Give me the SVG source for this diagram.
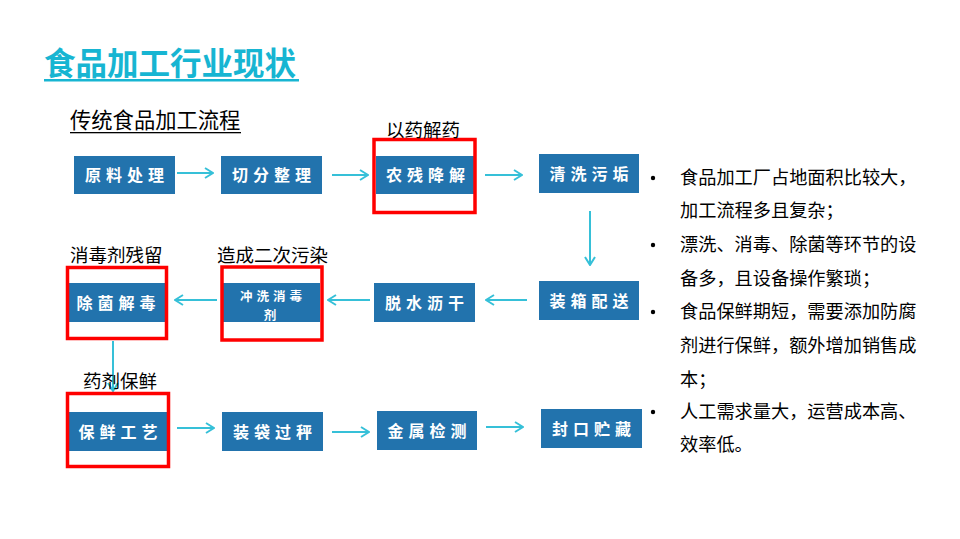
<svg xmlns="http://www.w3.org/2000/svg" width="960" height="539" viewBox="0 0 960 539">
<style>
.title{font-family:"Noto Sans CJK SC","Liberation Sans",sans-serif;font-size:31.5px;font-weight:700;fill:#17b5d2}
.sub{font-family:"Noto Sans CJK SC","Liberation Sans",sans-serif;font-size:21.3px;fill:#000}
.lbl{font-family:"Noto Sans CJK SC","Liberation Sans",sans-serif;font-size:18.5px;fill:#000}
.box{fill:#2273ad}
.bt{font-family:"Noto Sans CJK SC","Liberation Sans",sans-serif;font-size:16px;font-weight:700;fill:#fff;letter-spacing:5px;text-anchor:middle}
.bts{font-family:"Noto Sans CJK SC","Liberation Sans",sans-serif;font-size:12.5px;font-weight:700;fill:#fff;letter-spacing:4px;text-anchor:middle}
.red{fill:none;stroke:#ff0000;stroke-width:3.5}
.con{stroke:#36c0d8;stroke-width:2;fill:none}
.txt{font-family:"Noto Sans CJK SC","Liberation Sans",sans-serif;font-size:18.2px;fill:#000}
</style>
<defs>
<marker id="arr" viewBox="0 0 10 12" refX="9" refY="6" markerWidth="10" markerHeight="12" markerUnits="userSpaceOnUse" orient="auto">
<path d="M1,1 L9,6 L1,11" fill="none" stroke="#36c0d8" stroke-width="2"/>
</marker>
</defs>
<rect width="960" height="539" fill="#fff"/>
<g id="title">
<text class="title" x="44" y="75">食品加工行业现状</text>
<rect x="44" y="79" width="255" height="2.5" fill="#17b5d2"/>
</g>
<g id="subtitle">
<text class="sub" x="70" y="128">传统食品加工流程</text>
<rect x="70" y="132" width="171" height="1.3" fill="#000"/>
</g>
<g id="connectors">
<line class="con" x1="177" y1="173" x2="213" y2="173" marker-end="url(#arr)"/>
<line class="con" x1="332" y1="175" x2="368" y2="175" marker-end="url(#arr)"/>
<line class="con" x1="485" y1="175" x2="522" y2="175" marker-end="url(#arr)"/>
<line class="con" x1="590" y1="211" x2="590" y2="265" marker-end="url(#arr)"/>
<line class="con" x1="527" y1="300" x2="486" y2="300" marker-end="url(#arr)"/>
<line class="con" x1="370" y1="300" x2="328" y2="300" marker-end="url(#arr)"/>
<line class="con" x1="217" y1="300" x2="175" y2="300" marker-end="url(#arr)"/>
<line class="con" x1="113" y1="341" x2="113" y2="391" marker-end="url(#arr)"/>
<line class="con" x1="177" y1="428" x2="214" y2="428" marker-end="url(#arr)"/>
<line class="con" x1="332" y1="432" x2="369" y2="432" marker-end="url(#arr)"/>
<line class="con" x1="486" y1="427" x2="523" y2="427" marker-end="url(#arr)"/>
</g>
<g id="n1"><rect class="box" x="74" y="156" width="101" height="38"/><text class="bt" x="127" y="181">原料处理</text></g>
<g id="n2"><rect class="box" x="221" y="156" width="101" height="38"/><text class="bt" x="274" y="181">切分整理</text></g>
<g id="n3"><rect class="box" x="376" y="156" width="99" height="38"/><text class="bt" x="428" y="181">农残降解</text>
<rect class="red" x="374" y="139.5" width="101" height="73"/>
<text class="lbl" x="386" y="137">以药解药</text></g>
<g id="n4"><rect class="box" x="539" y="154" width="100" height="39"/><text class="bt" x="591.5" y="179.5">清洗污垢</text></g>
<g id="n5"><rect class="box" x="539" y="281" width="100" height="39"/><text class="bt" x="591.5" y="306.5">装箱配送</text></g>
<g id="n6"><rect class="box" x="374" y="283" width="101" height="39"/><text class="bt" x="427" y="308.5">脱水沥干</text></g>
<g id="n7"><rect class="box" x="223" y="283" width="97" height="39"/><text class="bts" x="273" y="301">冲洗消毒</text><text class="bts" x="272" y="319.5">剂</text>
<rect class="red" x="222" y="267" width="100" height="73"/>
<text class="lbl" x="217" y="262">造成二次污染</text></g>
<g id="n8"><rect class="box" x="67" y="283" width="98" height="39"/><text class="bt" x="118.5" y="308.5">除菌解毒</text>
<rect class="red" x="67.5" y="267.5" width="99" height="71"/>
<text class="lbl" x="70" y="262">消毒剂残留</text></g>
<g id="n9"><rect class="box" x="69" y="412" width="98" height="39"/><text class="bt" x="120.5" y="437.5">保鲜工艺</text>
<rect class="red" x="67.5" y="393.5" width="101" height="73"/>
<text class="lbl" x="83" y="388">药剂保鲜</text></g>
<g id="n10"><rect class="box" x="222" y="412" width="101" height="39"/><text class="bt" x="275" y="437.5">装袋过秤</text></g>
<g id="n11"><rect class="box" x="377" y="411" width="100" height="39"/><text class="bt" x="429.5" y="436.5">金属检测</text></g>
<g id="n12"><rect class="box" x="541" y="409" width="101" height="39"/><text class="bt" x="594" y="434.5">封口贮藏</text></g>
<g id="notes">
<circle cx="653" cy="178" r="2.2"/>
<circle cx="653" cy="245" r="2.2"/>
<circle cx="653" cy="312" r="2.2"/>
<circle cx="653" cy="412" r="2.2"/>
<text class="txt" x="680" y="184">食品加工厂占地面积比较大，</text>
<text class="txt" x="680" y="217">加工流程多且复杂；</text>
<text class="txt" x="680" y="251">漂洗、消毒、除菌等环节的设</text>
<text class="txt" x="680" y="285">备多，且设备操作繁琐；</text>
<text class="txt" x="680" y="318">食品保鲜期短，需要添加防腐</text>
<text class="txt" x="680" y="352">剂进行保鲜，额外增加销售成</text>
<text class="txt" x="680" y="386">本；</text>
<text class="txt" x="680" y="418">人工需求量大，运营成本高、</text>
<text class="txt" x="680" y="451">效率低。</text>
</g>
</svg>
